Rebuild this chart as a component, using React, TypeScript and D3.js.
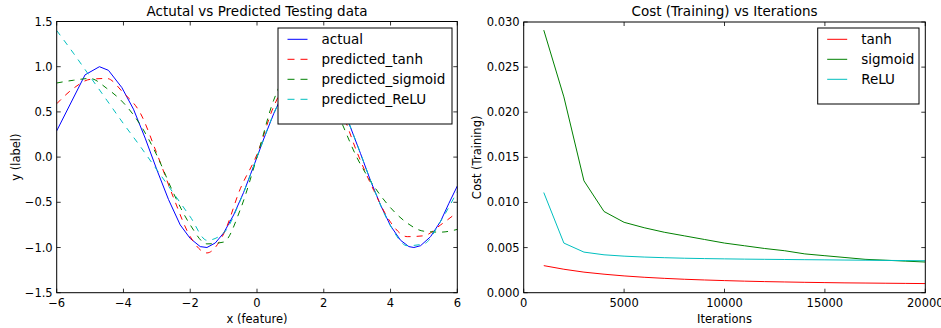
import React, { useRef, useEffect } from 'react';
import * as d3 from 'd3';

const FONT = 'DejaVu Sans, Verdana, sans-serif';

// Left panel: sampled test points of the actual curve
const actualX = [-6, -5.15, -4.72, -4.45, -4.05, -3.7, -3.35, -3.0, -2.65, -2.3, -2.0, -1.7, -1.5, -1.25, -1.0, -0.7, -0.4, -0.1, 0.2, 0.5, 0.8, 1.1, 1.4, 1.6, 1.9, 2.2, 2.5, 2.8, 3.1, 3.4, 3.7, 4.0, 4.3, 4.55, 4.7, 4.9, 5.2, 5.5, 5.75, 6];
const actualY = [0.29, 0.91, 1.0, 0.96, 0.77, 0.53, 0.21, -0.14, -0.47, -0.75, -0.9, -0.99, -1.0, -0.95, -0.84, -0.64, -0.39, -0.1, 0.2, 0.48, 0.72, 0.89, 0.99, 1.0, 0.95, 0.81, 0.6, 0.33, 0.04, -0.26, -0.53, -0.76, -0.92, -0.99, -1.0, -0.98, -0.88, -0.71, -0.51, -0.32];

// Predicted curves share a common grid
const predX = [-6, -5.5, -5, -4.5, -4, -3.5, -3, -2.5, -2, -1.5, -1, -0.5, 0, 0.5, 1, 1.5, 2, 2.5, 3, 3.5, 4, 4.5, 5, 5.5, 6];
const tanhY = [0.59, 0.76, 0.86, 0.87, 0.71, 0.49, 0.04, -0.45, -0.88, -1.06, -0.85, -0.35, 0.03, 0.56, 0.86, 0.92, 0.8, 0.53, 0.05, -0.37, -0.72, -0.88, -0.87, -0.75, -0.61];
const sigmoidY = [0.82, 0.85, 0.87, 0.76, 0.6, 0.36, 0.02, -0.4, -0.75, -0.96, -0.94, -0.58, 0.0, 0.63, 0.95, 0.97, 0.8, 0.41, -0.01, -0.32, -0.56, -0.73, -0.82, -0.83, -0.8];
const reluY = [1.4, 1.15, 0.89, 0.63, 0.37, 0.12, -0.14, -0.4, -0.66, -0.92, -0.84, -0.48, 0.0, 0.48, 0.84, 1.0, 0.91, 0.6, 0.14, -0.35, -0.76, -0.98, -0.96, -0.71, -0.38];

// Right panel: training cost
const iterations = [1000, 2000, 3000, 4000, 5000, 6000, 7000, 8000, 9000, 10000, 11000, 12000, 13000, 14000, 15000, 16000, 17000, 18000, 19000, 20000];
const costTanh = [0.003, 0.0026, 0.00228, 0.00205, 0.00186, 0.00171, 0.00159, 0.00149, 0.00141, 0.00134, 0.00128, 0.00123, 0.00119, 0.00115, 0.00112, 0.00109, 0.00107, 0.00105, 0.00103, 0.00101];
const costSigmoid = [0.0291, 0.0217, 0.0124, 0.009, 0.0078, 0.0072, 0.0067, 0.0063, 0.0059, 0.0055, 0.0052, 0.0049, 0.00465, 0.0043, 0.0041, 0.0039, 0.0037, 0.0036, 0.0035, 0.0034];
const costRelu = [0.0111, 0.0055, 0.0045, 0.0042, 0.00405, 0.00395, 0.00388, 0.00382, 0.00378, 0.00375, 0.00372, 0.0037, 0.00368, 0.00366, 0.00364, 0.00362, 0.0036, 0.00358, 0.00356, 0.00354];

const leftXTicks = [-6, -4, -2, 0, 2, 4, 6];
const leftYTicks = [-1.5, -1.0, -0.5, 0.0, 0.5, 1.0, 1.5];
const rightXTicks = [0, 5000, 10000, 15000, 20000];
const rightYTicks = [0, 0.005, 0.01, 0.015, 0.02, 0.025, 0.03];

const colors = { blue: '#0000ff', red: '#ff0000', green: '#008000', cyan: '#00bfbf' };

const App: React.FC = () => {
  const svgRef = useRef<SVGSVGElement>(null);
  const width = 941;
  const height = 328;

  useEffect(() => {
    if (!svgRef.current) return;
    const svg = d3.select(svgRef.current);
    svg.selectAll('*').remove();

    const minus = (s: string) => s.replace('-', '\u2212');

    const drawPanel = (opts: {
      x0: number; x1: number; y0: number; y1: number;
      xDomain: [number, number]; yDomain: [number, number];
      xTicks: number[]; yTicks: number[];
      xFmt: (v: number) => string; yFmt: (v: number) => string;
      title: string; xLabel: string; yLabel: string; yLabelX: number;
      clipId: string;
    }) => {
      const xScale = d3.scaleLinear().domain(opts.xDomain).range([opts.x0, opts.x1]);
      const yScale = d3.scaleLinear().domain(opts.yDomain).range([opts.y1, opts.y0]);
      const g = svg.append('g');

      svg.append('clipPath').attr('id', opts.clipId)
        .append('rect')
        .attr('x', opts.x0).attr('y', opts.y0)
        .attr('width', opts.x1 - opts.x0).attr('height', opts.y1 - opts.y0);

      const plot = g.append('g').attr('clip-path', `url(#${opts.clipId})`);

      // ticks, pointing inward on all four sides
      opts.xTicks.forEach(t => {
        const x = xScale(t);
        g.append('line').attr('x1', x).attr('x2', x).attr('y1', opts.y1).attr('y2', opts.y1 - 4)
          .attr('stroke', '#000').attr('stroke-width', 0.8);
        g.append('line').attr('x1', x).attr('x2', x).attr('y1', opts.y0).attr('y2', opts.y0 + 4)
          .attr('stroke', '#000').attr('stroke-width', 0.8);
        g.append('text').attr('x', x).attr('y', opts.y1 + 14)
          .attr('text-anchor', 'middle').attr('font-size', '11.5px').attr('font-family', FONT)
          .attr('fill', '#000').text(opts.xFmt(t));
      });
      opts.yTicks.forEach(t => {
        const y = yScale(t);
        g.append('line').attr('x1', opts.x0).attr('x2', opts.x0 + 4).attr('y1', y).attr('y2', y)
          .attr('stroke', '#000').attr('stroke-width', 0.8);
        g.append('line').attr('x1', opts.x1).attr('x2', opts.x1 - 4).attr('y1', y).attr('y2', y)
          .attr('stroke', '#000').attr('stroke-width', 0.8);
        g.append('text').attr('x', opts.x0 - 4).attr('y', y + 4)
          .attr('text-anchor', 'end').attr('font-size', '11.5px').attr('font-family', FONT)
          .attr('fill', '#000').text(opts.yFmt(t));
      });

      g.append('rect')
        .attr('x', opts.x0).attr('y', opts.y0)
        .attr('width', opts.x1 - opts.x0).attr('height', opts.y1 - opts.y0)
        .attr('fill', 'none').attr('stroke', '#000').attr('stroke-width', 1);

      g.append('text').attr('x', (opts.x0 + opts.x1) / 2).attr('y', 16)
        .attr('text-anchor', 'middle').attr('font-size', '13.5px').attr('font-family', FONT)
        .attr('fill', '#000').text(opts.title);

      g.append('text').attr('x', (opts.x0 + opts.x1) / 2).attr('y', 323)
        .attr('text-anchor', 'middle').attr('font-size', '11.5px').attr('font-family', FONT)
        .attr('fill', '#000').text(opts.xLabel);

      g.append('text')
        .attr('transform', `translate(${opts.yLabelX},${(opts.y0 + opts.y1) / 2}) rotate(-90)`)
        .attr('text-anchor', 'middle').attr('font-size', '11.5px').attr('font-family', FONT)
        .attr('fill', '#000').text(opts.yLabel);

      return { xScale, yScale, plot, g };
    };

    const drawLegend = (g: any, x: number, y: number, w: number, items: { label: string; color: string; dash: boolean }[]) => {
      const h = 16 + items.length * 20;
      const lg = g.append('g');
      lg.append('rect').attr('x', x).attr('y', y).attr('width', w).attr('height', h)
        .attr('fill', '#fff').attr('stroke', '#000').attr('stroke-width', 1);
      items.forEach((it, i) => {
        const cy = y + 11.3 + i * 20;
        lg.append('line').attr('x1', x + 9.5).attr('x2', x + 29.5).attr('y1', cy).attr('y2', cy)
          .attr('stroke', it.color).attr('stroke-width', 1)
          .attr('stroke-dasharray', it.dash ? '7,6' : null);
        lg.append('text').attr('x', x + 43.5).attr('y', cy + 4.8)
          .attr('font-size', '13.5px').attr('font-family', FONT).attr('fill', '#000').text(it.label);
      });
    };

    // Left panel
    const left = drawPanel({
      x0: 56.7, x1: 457.3, y0: 21.5, y1: 292.7,
      xDomain: [-6, 6], yDomain: [-1.5, 1.5],
      xTicks: leftXTicks, yTicks: leftYTicks,
      xFmt: v => minus(String(v)), yFmt: v => minus(v.toFixed(1)),
      title: 'Actutal vs Predicted Testing data', xLabel: 'x (feature)', yLabel: 'y (label)', yLabelX: 20,
      clipId: 'clipLeft',
    });

    const lineL = (xs: number[]) => d3.line<number>()
      .x((d, i) => left.xScale(xs[i]))
      .y(d => left.yScale(d));

    const leftSeries = [
      { label: 'actual', xs: actualX, ys: actualY, color: colors.blue, dash: false },
      { label: 'predicted_tanh', xs: predX, ys: tanhY, color: colors.red, dash: true },
      { label: 'predicted_sigmoid', xs: predX, ys: sigmoidY, color: colors.green, dash: true },
      { label: 'predicted_ReLU', xs: predX, ys: reluY, color: colors.cyan, dash: true },
    ];
    leftSeries.forEach(s => {
      const gen = lineL(s.xs);
      if (s.dash) gen.curve(d3.curveMonotoneX);
      left.plot.append('path').datum(s.ys).attr('d', gen)
        .attr('fill', 'none').attr('stroke', s.color).attr('stroke-width', 1)
        .attr('stroke-dasharray', s.dash ? '6,6' : null);
    });
    drawLegend(left.g, 278, 28, 174, leftSeries);

    // Right panel
    const right = drawPanel({
      x0: 523.7, x1: 925.3, y0: 22, y1: 292.7,
      xDomain: [0, 20000], yDomain: [0, 0.03],
      xTicks: rightXTicks, yTicks: rightYTicks,
      xFmt: v => String(v), yFmt: v => v.toFixed(3),
      title: 'Cost (Training) vs Iterations', xLabel: 'Iterations', yLabel: 'Cost (Training)', yLabelX: 481,
      clipId: 'clipRight',
    });

    const rightSeries = [
      { label: 'tanh', ys: costTanh, color: colors.red, dash: false },
      { label: 'sigmoid', ys: costSigmoid, color: colors.green, dash: false },
      { label: 'ReLU', ys: costRelu, color: colors.cyan, dash: false },
    ];
    const lineR = d3.line<number>()
      .x((d, i) => right.xScale(iterations[i]))
      .y(d => right.yScale(d));
    rightSeries.forEach(s => {
      right.plot.append('path').datum(s.ys).attr('d', lineR)
        .attr('fill', 'none').attr('stroke', s.color).attr('stroke-width', 1);
    });
    drawLegend(right.g, 817.7, 28, 101.3, rightSeries);
  }, []);

  return (
    <svg ref={svgRef} width={width} height={height}
      style={{ position: 'absolute', left: 0, top: 0, background: '#fff' }} />
  );
};

export default App;
